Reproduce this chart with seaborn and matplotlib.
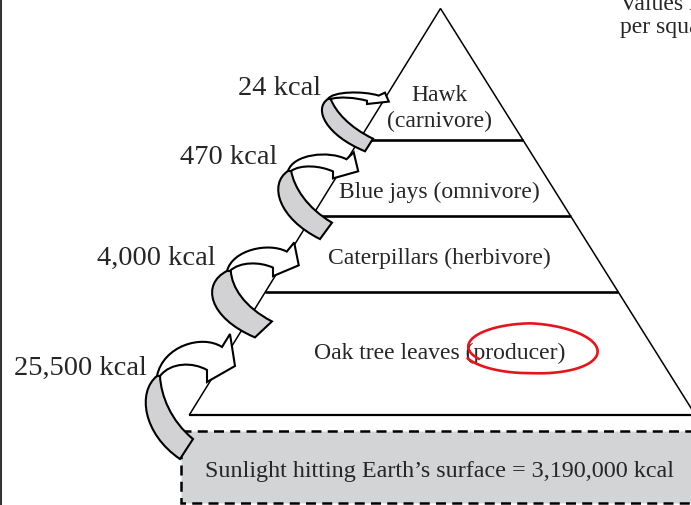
import numpy as np
import matplotlib
matplotlib.use("Agg")
import matplotlib.pyplot as plt
import seaborn as sns
from matplotlib.path import Path
from matplotlib.patches import PathPatch, Polygon, Rectangle

# --- data -------------------------------------------------------------
levels = ["Hawk\n(carnivore)", "Blue jays (omnivore)",
          "Caterpillars (herbivore)", "Oak tree leaves (producer)"]
energy_kcal = [24, 470, 4000, 25500]
sunlight_kcal = 3190000
legend_lines = ["Values in kcal", "per square meter per year"]

# --- layout (pixel coords, y down) -----------------------------------
W, H = 691, 506
apex = (440.5, 9.5)
slope_l, slope_r = -0.618, 0.627
layer_y = [141, 217, 293, 416]
label_y = [109, 192, 258, 353]
energy_xy = [(321, 88), (277, 157), (216, 258), (147, 368)]
# arrows: pivot, gray (gx, gy, shear), white (wx, wy, shear)
arrow_cfg = [
    ((328, 100), (0.913, 0.63, 0.193), (0.78, 0.27, 0.068)),
    ((288, 172), (1.063, 0.82, 0.091), (0.90, 0.58, 0.078)),
    ((227, 272), (1.28, 0.80, -0.018), (0.92, 0.71, 0.018)),
    ((157, 377), (1.0, 1.0, 0.0), (1.0, 1.0, 0.0)),
]

sns.set_theme(style="white")
plt.rcParams["font.family"] = ["Liberation Serif", "DejaVu Serif"]
txt_color = "#262626"

fig = plt.figure(figsize=(W / 100, H / 100), dpi=100)
ax = fig.add_axes([0, 0, 1, 1])
ax.set_xlim(0, W)
ax.set_ylim(H, 0)
ax.axis("off")


def edge_x(y, s):
    return apex[0] + s * (y - apex[1])


# sunlight box
ax.add_patch(Rectangle((181, 431.5), 600, 72, facecolor="#d3d4d6",
                       edgecolor="black", lw=1.8, ls=(0, (4, 2.5)), zorder=1))
ax.text(439.5, 472, f"Sunlight hitting Earth\u2019s surface = {sunlight_kcal:,} kcal",
        ha="center", va="center", fontsize=17.4, color=txt_color, zorder=2)

# pyramid
base = layer_y[-1]
ax.add_patch(Polygon([apex, (edge_x(base, slope_l), base), (edge_x(base, slope_r), base)],
                     closed=True, facecolor="white", edgecolor="black", lw=1.1, zorder=2))
for y in layer_y:
    ax.plot([edge_x(y, slope_l), edge_x(y, slope_r)], [y, y], color="black",
            lw=1.9 if y != base else 1.6, solid_capstyle="butt", zorder=3)

for name, y in zip(levels, label_y):
    ax.text(439.5, y, name, ha="center", va="center", fontsize=17,
            color=txt_color, linespacing=1.3, zorder=4)

for v, (x, y) in zip(energy_kcal, energy_xy):
    ax.text(x, y, f"{v:,} kcal", ha="right", va="center", fontsize=20.5,
            color=txt_color, zorder=4)

# curved arrows
gray_t = [(0, 0), (-20, 16), (-14, 58), (23, 83), (36, 63), (14, 45), (4, 20), (3, 0), (0, 0)]
gray_c = [Path.MOVETO, Path.CURVE4, Path.CURVE4, Path.CURVE4, Path.LINETO,
          Path.CURVE4, Path.CURVE4, Path.CURVE4, Path.CLOSEPOLY]
white_t = [(0, 0), (6, -30), (45, -42), (65, -29), (73, -42), (78, -10), (50, 6),
           (50, -6), (36, -14), (14, -14), (3, 0), (0, 0)]
white_c = [Path.MOVETO, Path.CURVE4, Path.CURVE4, Path.CURVE4, Path.LINETO, Path.LINETO,
           Path.LINETO, Path.LINETO, Path.CURVE4, Path.CURVE4, Path.CURVE4, Path.CLOSEPOLY]

for (px, py), (gx, gy, gm), (wx, wy, wk) in arrow_cfg:
    g = np.array(gray_t, float)
    gv = np.column_stack([px + gx * g[:, 0] + gm * g[:, 1], py + gy * g[:, 1]])
    w = np.array(white_t, float)
    wv = np.column_stack([px + wx * w[:, 0], py + wy * w[:, 1] + wk * w[:, 0]])
    ax.add_patch(PathPatch(Path(wv, white_c), facecolor="white", edgecolor="black",
                           lw=1.5, joinstyle="miter", zorder=5))
    ax.add_patch(PathPatch(Path(gv, gray_c), facecolor="#d2d2d4", edgecolor="black",
                           lw=1.5, joinstyle="miter", zorder=5))

# red hand-drawn loop around "(producer)"
t = np.linspace(np.radians(213), np.radians(-155), 300)
frac = (t[0] - t) / (t[0] - t[-1])
a = 62 + 8 * frac
b = 22 + 5 * frac
lx = 531 + a * np.cos(t)
ly = 348 - b * np.sin(t) + 4 * np.cos(t) * (np.cos(t) > 0)
ax.plot(lx, ly, color="#e8141c", lw=1.9, solid_capstyle="round", zorder=6)

# top-right note, clipped by the figure edge as in the source
ax.text(620, 10, legend_lines[0], ha="left", va="baseline", fontsize=17, color=txt_color)
ax.text(620, 33, legend_lines[1], ha="left", va="baseline", fontsize=17, color=txt_color)

# left border
ax.plot([1.5, 1.5], [0, H], color="#333333", lw=1.5, zorder=7)

fig.savefig("out.png", dpi=100)
